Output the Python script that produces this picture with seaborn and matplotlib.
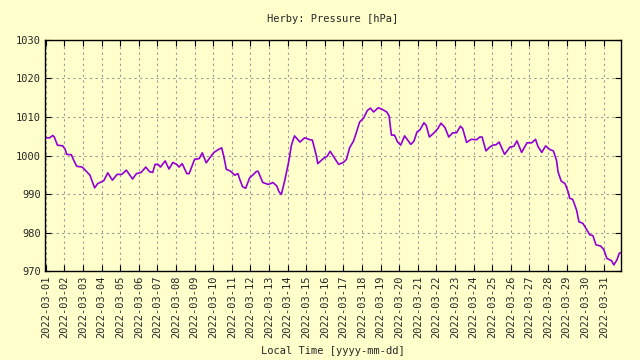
# Herby pressure chart, March 2022

import pandas as pd
import matplotlib
matplotlib.use("Agg")
import matplotlib.pyplot as plt
import matplotlib.dates as mdates
import seaborn as sns

# hours after 2022-03-01 00:00 local time
hours = [-1, 5, 9, 11, 15, 22, 25, 27, 33, 36, 40, 47, 51, 57, 63, 67, 75, 80,
         86, 92, 98, 104, 112, 117, 123, 129, 134, 138, 141, 145, 148, 154, 159,
         164, 169, 172, 176, 182, 185, 192, 198, 202, 207, 212, 217, 223, 227,
         230, 233, 238, 244, 248, 250, 254, 258, 263, 267, 272, 274, 280, 287,
         290, 293, 298, 301, 304, 308, 313, 317, 321, 328, 334, 341, 344, 349,
         351, 358, 363, 367, 373, 378, 384, 388, 392, 397, 401, 405, 410, 415,
         419, 423, 429, 434, 440, 443, 446, 450, 454, 458, 463, 467, 471, 475,
         479, 483, 488, 491, 495, 500, 506, 510, 515, 520, 525, 530, 535, 538,
         543, 549, 556, 560, 563, 568, 573, 577, 581, 585, 592, 599, 604, 608,
         614, 621, 627, 632, 635, 640, 645, 650, 655, 659, 661, 665, 670, 674,
         676, 680, 685, 688, 693, 697, 702, 706, 710, 716, 720, 724, 730, 733,
         737, 740, 742]

# pressure in hPa
pressure = [1004.6, 1004.6, 1005.2, 1004.8, 1002.7, 1002.5, 1001.6, 1000.3,
            1000.2, 998.8, 997.2, 997.0, 996.2, 994.9, 991.6, 992.7, 993.5,
            995.5, 993.6, 995.1, 995.1, 996.2, 993.9, 995.3, 995.6, 997.0,
            995.8, 995.6, 997.7, 997.7, 997.0, 998.6, 996.5, 998.2, 997.7,
            997.0, 997.9, 995.3, 995.3, 999.0, 999.2, 1000.7, 998.1, 999.5,
            1000.8, 1001.6, 1002.0, 999.5, 996.4, 996.0, 994.9, 995.3, 994.0,
            991.9, 991.5, 994.2, 994.9, 995.9, 995.9, 993.0, 992.5, 992.7,
            993.0, 992.1, 990.6, 989.9, 993.2, 997.9, 1002.7, 1005.1, 1003.5,
            1004.6, 1004.1, 1004.0, 1000.1, 997.9, 999.2, 999.8, 1001.1, 999.2,
            997.7, 998.2, 999.0, 1002.0, 1003.7, 1006.1, 1008.7, 1009.7,
            1011.7, 1012.3, 1011.3, 1012.4, 1012.0, 1011.3, 1010.3, 1005.3,
            1005.3, 1003.5, 1002.7, 1005.1, 1004.0, 1002.9, 1003.7, 1006.1,
            1006.7, 1008.5, 1007.8, 1004.8, 1005.7, 1007.0, 1008.4, 1007.3,
            1004.8, 1005.9, 1005.9, 1007.6, 1007.0, 1003.4, 1004.2, 1004.1,
            1004.8, 1004.8, 1001.2, 1002.2, 1002.7, 1002.8, 1003.5, 1000.3,
            1002.2, 1002.4, 1003.8, 1000.8, 1003.3, 1003.3, 1004.2, 1002.4,
            1000.8, 1002.5, 1001.6, 1001.2, 998.8, 995.8, 993.4, 992.7, 990.6,
            988.9, 988.6, 985.8, 982.8, 982.4, 981.1, 979.4, 979.2, 976.8,
            976.5, 975.6, 973.3, 972.7, 971.6, 972.9, 974.6, 974.8]

bg = "#ffffcc"
line_color = "#9400d3"

sns.set_style("ticks")
plt.rcParams["font.family"] = ["DejaVu Sans Mono"]
plt.rcParams["font.size"] = 7.5

df = pd.DataFrame({
    "time": pd.Timestamp("2022-03-01") + pd.to_timedelta(hours, unit="h"),
    "pressure": pressure,
})

fig = plt.figure(figsize=(6.4, 3.6), dpi=100, facecolor=bg)
ax = fig.add_axes([0.0703, 0.247, 0.8997, 0.642])
ax.set_facecolor(bg)

sns.lineplot(data=df, x="time", y="pressure", ax=ax, color=line_color,
             linewidth=1.2)

ax.set_xlim(df["time"].min(), df["time"].max())
ax.set_ylim(970, 1030)
ax.set_yticks(range(970, 1031, 10))

ax.xaxis.set_major_locator(mdates.DayLocator())
ax.xaxis.set_major_formatter(mdates.DateFormatter("%Y-%m-%d"))
plt.setp(ax.get_xticklabels(), rotation=90, ha="center")

ax.grid(True, color="#999999", linestyle=(0, (2, 3)), linewidth=0.8)
ax.tick_params(direction="in", length=4, width=0.8, color="black",
               top=True, right=True, labelsize=7.5, pad=3)
for s in ax.spines.values():
    s.set_color("black")
    s.set_linewidth(1.0)

ax.set_title("Herby: Pressure [hPa]", fontsize=7.5, pad=13)
ax.set_xlabel("Local Time [yyyy-mm-dd]", fontsize=7.5, labelpad=6)
ax.set_ylabel("")

fig.savefig("out.png", dpi=100, facecolor=bg)
